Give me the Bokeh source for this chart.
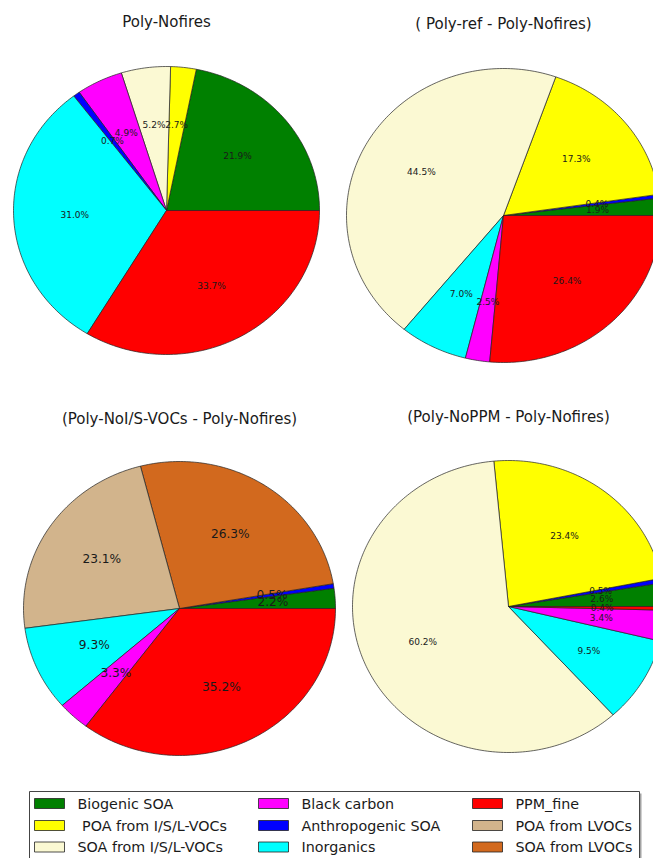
import numpy as np
from bokeh.plotting import figure
from bokeh.models import Range1d
from bokeh.core.properties import value
from bokeh.embed import file_html
from bokeh.resources import INLINE

# ---------------------------------------------------------------- data
components = [
    "Biogenic SOA", "\u00a0POA from I/S/L-VOCs", "SOA from I/S/L-VOCs",
    "Black carbon", "Anthropogenic SOA", "Inorganics",
    "PPM_fine", "POA from LVOCs", "SOA from LVOCs",
]
component_colors = [
    "#008000", "#FFFF00", "#FBF9D3",
    "#FF00FF", "#0000FF", "#00FFFF",
    "#FF0000", "#D2B48C", "#D2691E",
]

# each pie: components in drawing order (counter-clockwise from 3 o'clock) and shares in %
nofires_title = "Poly-Nofires"
nofires_parts = [0, 1, 2, 3, 4, 5, 6]
nofires_pct = [21.9, 2.7, 5.2, 4.9, 0.7, 31.0, 33.7]

ref_title = "( Poly-ref - Poly-Nofires)"
ref_parts = [0, 4, 1, 2, 5, 3, 6]
ref_pct = [1.9, 0.4, 17.3, 44.5, 7.0, 2.5, 26.4]

noisvoc_title = "(Poly-NoI/S-VOCs - Poly-Nofires)"
noisvoc_parts = [0, 4, 8, 7, 5, 3, 6]
noisvoc_pct = [2.2, 0.5, 26.3, 23.1, 9.3, 3.3, 35.2]

noppm_title = "(Poly-NoPPM - Poly-Nofires)"
noppm_parts = [0, 4, 1, 2, 5, 3, 6]
noppm_pct = [2.6, 0.5, 23.4, 60.2, 9.5, 3.4, 0.4]

# ---------------------------------------------------------------- layout
W, H = 653, 858
FONT = "DejaVu Sans"
INK = "#1a1a1a"

pies = [
    # title, parts, pct, centre x, centre y, radius x, radius y, title y, label size
    (nofires_title, nofires_parts, nofires_pct, 166, 210, 153, 144, 21, "9px"),
    (ref_title, ref_parts, ref_pct, 503, 215, 157, 147, 23, "9px"),
    (noisvoc_title, noisvoc_parts, noisvoc_pct, 179, 608, 156, 147, 418, "12.2px"),
    (noppm_title, noppm_parts, noppm_pct, 508, 606, 156, 146, 416, "9px"),
]

p = figure(width=W, height=H, x_range=Range1d(0, W), y_range=Range1d(H, 0),
           output_backend="svg", toolbar_location=None, min_border=0,
           x_axis_type=None, y_axis_type=None)
p.grid.visible = False
p.outline_line_color = None
p.background_fill_color = "white"
p.border_fill_color = "white"


def wedge(cx, cy, rx, ry, a0, a1):
    n = max(2, int(np.ceil(np.degrees(a1 - a0))) + 1)
    t = np.linspace(a0, a1, n)
    xs = np.concatenate([[cx], cx + rx * np.cos(t)])
    ys = np.concatenate([[cy], cy - ry * np.sin(t)])
    return xs.tolist(), ys.tolist()


for title, parts, pct, cx, cy, rx, ry, ty, lsize in pies:
    vals = np.asarray(pct, dtype=float)
    frac = vals / vals.sum()
    edges = np.concatenate([[0.0], np.cumsum(frac)]) * 2 * np.pi
    xs, ys, fills, lx, ly, lt = [], [], [], [], [], []
    for i, part in enumerate(parts):
        wx, wy = wedge(cx, cy, rx, ry, edges[i], edges[i + 1])
        xs.append(wx)
        ys.append(wy)
        fills.append(component_colors[part])
        mid = 0.5 * (edges[i] + edges[i + 1])
        lx.append(cx + 0.6 * rx * np.cos(mid))
        ly.append(cy - 0.6 * ry * np.sin(mid))
        lt.append(f"{pct[i]:.1f}%")
    p.patches(xs=xs, ys=ys, fill_color=fills, line_color="#222222",
              line_width=0.7)
    p.text(x=lx, y=ly, text=lt, text_font=value(FONT),
           text_font_size=value(lsize), text_color=INK,
           text_align="center", text_baseline="middle")
    p.text(x=[cx], y=[ty], text=[title], text_font=value(FONT),
           text_font_size=value("15px"), text_color=INK,
           text_align="center", text_baseline="middle")

# ---------------------------------------------------------------- legend
box_l, box_r, box_t, box_b = 29, 639, 791, 875
p.quad(left=[box_l + 2], right=[box_r + 2], top=[box_t + 2], bottom=[box_b + 2],
       fill_color="#666666", fill_alpha=0.6, line_color=None)
p.quad(left=[box_l], right=[box_r], top=[box_t], bottom=[box_b],
       fill_color="white", line_color="#444444", line_width=1)

col_x = [34, 258, 472]
row_y = [803, 825, 846.5]
sw_x, sw_y, sw_c, tx, ty_, tt = [], [], [], [], [], []
for k, (name, col) in enumerate(zip(components, component_colors)):
    c, r = divmod(k, 3)
    sw_x.append(col_x[c] + 15)
    sw_y.append(row_y[r])
    sw_c.append(col)
    tx.append(col_x[c] + 43)
    ty_.append(row_y[r])
    tt.append(name)
p.rect(x=sw_x, y=sw_y, width=30, height=10, fill_color=sw_c,
       line_color="#222222", line_width=0.8)
p.text(x=tx, y=ty_, text=tt, text_font=value(FONT),
       text_font_size=value("14.3px"), text_color=INK,
       text_align="left", text_baseline="middle")

open("out.html", "w").write(file_html(p, INLINE))
